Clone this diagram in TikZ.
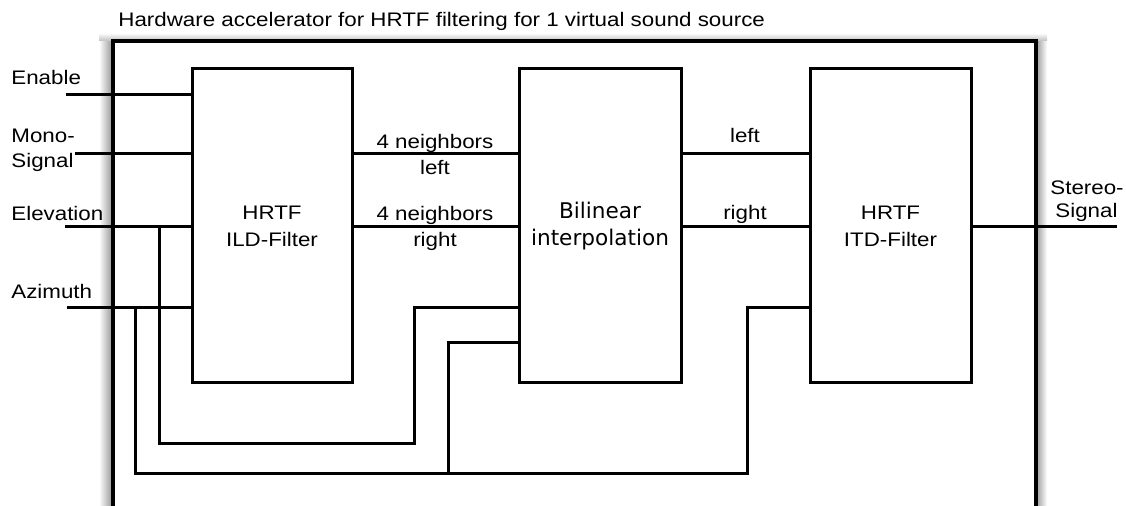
\documentclass[tikz,border=0pt]{standalone}
\usepackage{fontspec}
\setmainfont[FakeStretch=1.14]{Liberation Sans}
\newfontfamily\bilfont{DejaVu Sans}
\begin{document}
\begin{tikzpicture}[x=0.5pt,y=-0.5pt,
  lbl/.style={inner sep=0pt,font=\fontsize{9.8}{13.5}\selectfont},
  blockbox/.style={draw,line width=1.5pt,rectangle,inner sep=0pt,minimum height=157pt,
    align=center,font=\fontsize{9.8}{13.5}\selectfont},
  wire/.style={line width=1.5pt},
  frame/.style={line width=1.8pt}]
\useasboundingbox (0,0) rectangle (1126,506);
% soft shadow around the outer frame
\shade[left color=white,right color=black!40] (99,41) rectangle (112,506);
\shade[left color=black!40,right color=white] (1036,41) rectangle (1047,506);
\shade[top color=white,bottom color=black!25] (99,33) rectangle (1047,41);
\fill[white] (113,41) rectangle (1035,506);
% outer frame (open at the bottom)
\draw[frame] (113,506) -- (113,41) -- (1036,41) -- (1036,506);
\node[lbl,anchor=base west] (title) at (118,27) {Hardware accelerator for HRTF filtering for 1 virtual sound source};
% blocks
\node[blockbox,minimum width=80pt] (ild) at (272,226) {HRTF\\ILD-Filter};
\node[blockbox,minimum width=81pt,font=\fontsize{10.8}{13.5}\selectfont\bilfont] (bil) at (600,226) {Bilinear\\interpolation};
\node[blockbox,minimum width=80.5pt] (itd) at (890.5,226) {HRTF\\ITD-Filter};
% helper rows
\coordinate (yl) at (0,154);
\coordinate (yr) at (0,227);
\coordinate (ya) at (0,308);
\coordinate (yb) at (0,343);
% inputs
\coordinate (enin) at (66,95);
\coordinate (monoin) at (75,154);
\coordinate (elin) at (65,227);
\coordinate (azin) at (67,308);
\coordinate (stout) at (1117,227);
\draw[wire] (enin) -- (enin -| ild.west);
\draw[wire] (monoin) -- (monoin -| ild.west);
\draw[wire] (elin) -- (elin -| ild.west);
\draw[wire] (azin) -- (azin -| ild.west);
% ILD -> bilinear
\draw[wire] (ild.east |- yl) -- (bil.west |- yl);
\draw[wire] (ild.east |- yr) -- (bil.west |- yr);
% bilinear -> ITD
\draw[wire] (bil.east |- yl) -- (itd.west |- yl);
\draw[wire] (bil.east |- yr) -- (itd.west |- yr);
% ITD -> output
\draw[wire] (itd.east |- yr) -- (stout);
% elevation branch to bilinear
\coordinate (eb) at (159,227);
\draw[wire] (eb) -- (159,444) -- (414,444) -- (414,308) -- (bil.west |- ya);
% azimuth branch to ITD and bilinear
\coordinate (ab) at (135,308);
\draw[wire] (ab) -- (135,474) -- (747,474) -- (747,308) -- (itd.west |- ya);
\coordinate (abb) at (448,474);
\draw[wire] (abb) -- (448,343) -- (bil.west |- yb);
% labels
\node[lbl,anchor=base west] (lEn) at (11,85) {Enable};
\node[lbl,anchor=base west] (lMo1) at (11,143) {Mono-};
\node[lbl,anchor=base west] (lMo2) at (11,168) {Signal};
\node[lbl,anchor=base west] (lEl) at (11,221) {Elevation};
\node[lbl,anchor=base west] (lAz) at (11,299) {Azimuth};
\node[lbl,anchor=base] (n1) at (435,149) {4 neighbors};
\node[lbl,anchor=base] (n1b) at (435,175) {left};
\node[lbl,anchor=base] (n2) at (435,221) {4 neighbors};
\node[lbl,anchor=base] (n2b) at (435,247) {right};
\node[lbl,anchor=base] (ol) at (745,143) {left};
\node[lbl,anchor=base] (or) at (745,220) {right};
\node[lbl,anchor=base west] (st1) at (1050,195) {Stereo-};
\node[lbl,anchor=base west] (st2) at (1055,218) {Signal};
\end{tikzpicture}
\end{document}
